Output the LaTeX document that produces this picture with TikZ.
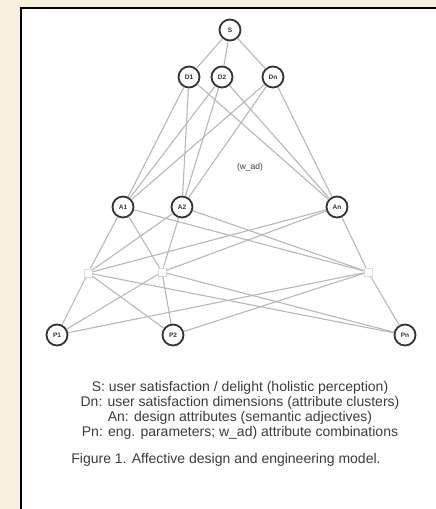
\documentclass[tikz,border=0pt]{standalone}
\usepackage{fontspec}
\setmainfont{Liberation Sans}
\usetikzlibrary{positioning}
\definecolor{paper}{RGB}{249,239,222}
\definecolor{ink}{RGB}{60,60,60}

\begin{document}
\begin{tikzpicture}[x=1pt,y=-1pt,
  var/.style={circle,draw=black!80,line width=1.8pt,minimum size=21pt,inner sep=0pt,
    font=\fontsize{6.5}{6.5}\selectfont\bfseries,text=black!80},
  comb/.style={draw=black!15,line width=0.8pt,minimum size=8pt,inner sep=0pt},
  link/.style={black!28,line width=1.1pt},
  legend/.style={text=ink,font=\fontsize{14}{15}\selectfont,inner sep=0pt}]
\useasboundingbox (0,0) rectangle (436,509);
\fill[paper] (0,0) rectangle (436,509);
\fill[white] (21,8) rectangle (436,509);
\draw[line width=2pt] (21,509)--(21,8)--(436,8);

% levels of the model
\node[var] (S) at (230,30) {S};
\node[var] (D1) at (189,77) {D1};
\node[var] (D2) at (222,77) {D2};
\node[var] (Dn) at (273,77) {Dn};
\node[var] (A1) at (123,207) {A1};
\node[var] (A2) at (182,207) {A2};
\node[var] (An) at (337,207) {An};
\node[comb] (C1) at (88,273) {};
\node[comb] (C2) at (162,272) {};
\node[comb] (Cn) at (368,272) {};
\node[var] (P1) at (57,335) {P1};
\node[var] (P2) at (173,335) {P2};
\node[var] (Pn) at (405,335) {Pn};
\node[text=ink,font=\fontsize{8.5}{8.5}\selectfont] (wad) at (250,167) {(w\_ad)};

\foreach \d in {D1,D2,Dn}{
  \draw[link] (S)--(\d);
  \foreach \a in {A1,A2,An} \draw[link] (\d)--(\a);
}
\foreach \c in {C1,C2,Cn}{
  \foreach \a in {A1,A2,An} \draw[link] (\a)--(\c);
  \foreach \p in {P1,P2,Pn} \draw[link] (\c)--(\p);
}

% key
\node[legend] (k1) at (240,388) {S: user satisfaction / delight (holistic perception)};
\node[legend] (k2) at (240,403) {Dn: user satisfaction dimensions (attribute clusters)};
\node[legend] (k3) at (240,418) {An: design attributes (semantic adjectives)};
\node[legend] (k4) at (240,433) {Pn: eng. parameters; w\_ad) attribute combinations};
\node[legend] (cap) at (226,460) {Figure 1. Affective design and engineering model.};
\end{tikzpicture}
\end{document}
